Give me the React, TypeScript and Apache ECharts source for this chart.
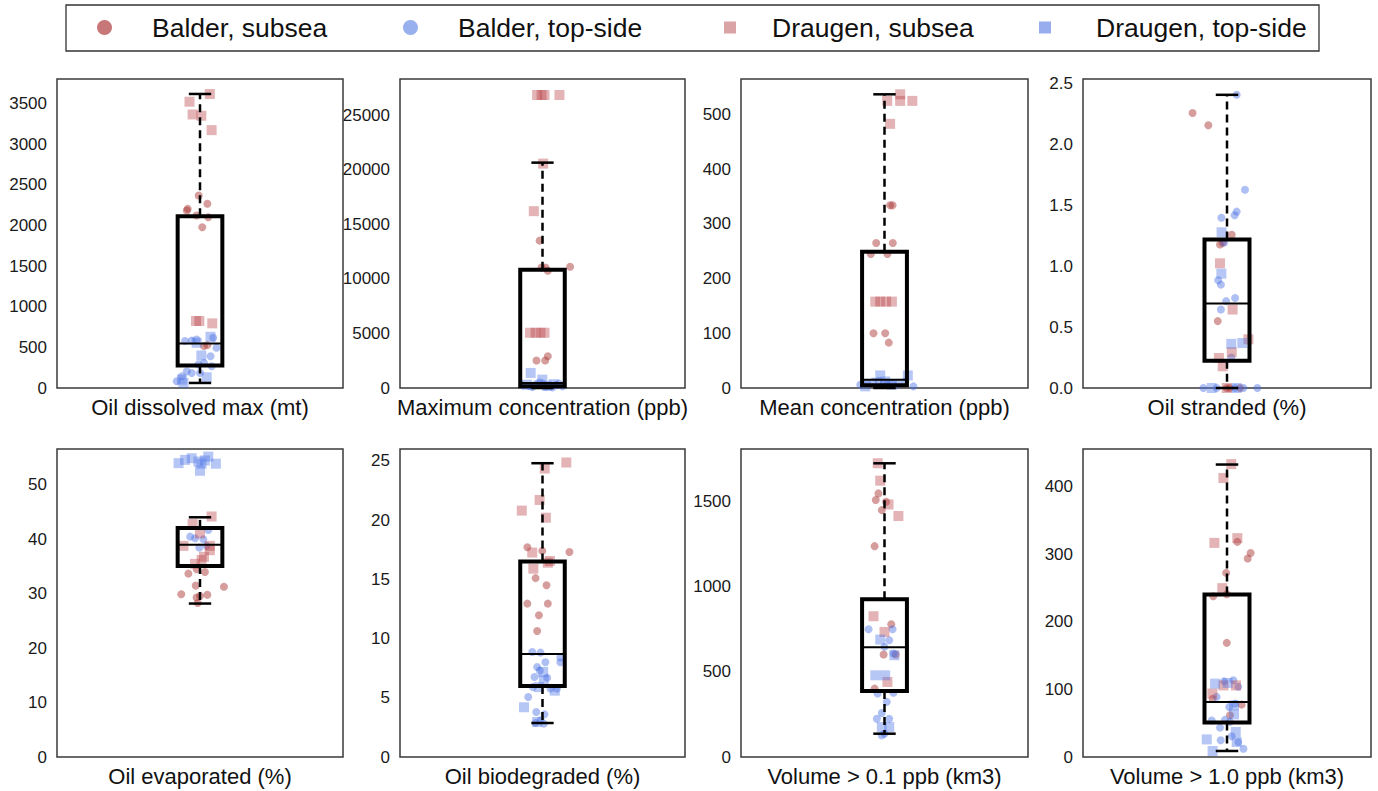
import React, { useEffect, useRef } from "react";
import * as echarts from "echarts";

type Pt = [number, number];

// ---------- data ----------
const panelTitles = [
  "Oil dissolved max (mt)",
  "Maximum concentration (ppb)",
  "Mean concentration (ppb)",
  "Oil stranded (%)",
  "Oil evaporated (%)",
  "Oil biodegraded (%)",
  "Volume > 0.1 ppb (km3)",
  "Volume > 1.0 ppb (km3)",
];

const yMax = [3800, 28300, 565, 2.54, 56.6, 26, 1810, 456];
const yInterval = [500, 5000, 100, 0.5, 10, 5, 500, 100];

// [low whisker, q1, median, q3, high whisker]
const boxStats: number[][] = [
  [62, 276, 548, 2113, 3616],
  [0, 150, 450, 10826, 20640],
  [0, 5, 15, 249, 537],
  [0, 0.225, 0.695, 1.22, 2.41],
  [28.2, 35.1, 39.0, 42.1, 44.05],
  [2.87, 6.0, 8.7, 16.5, 24.8],
  [137, 388, 645, 927, 1726],
  [8.9, 50.9, 81.5, 240.5, 433],
];

// points: [jitter (box half-width units), value]
const balderSubsea: Pt[][] = [
  [[-0.06, 2368], [-0.55, 2203], [-0.59, 2183], [0.33, 2265], [-0.15, 2121], [0.37, 2100], [0.1, 1977], [0.18, 515], [0.33, 527]],
  [[-0.13, 13495], [-0.04, 11041], [0.13, 11041], [0.24, 10735], [1.24, 11100], [-0.27, 2515], [0.12, 2515], [0.24, 2914]],
  [[0.25, 334], [0.36, 334], [-0.37, 265], [0.37, 265], [-0.61, 245], [0.13, 245], [-0.49, 100], [0.03, 100], [0.19, 83]],
  [[-1.53, 2.26], [-0.83, 2.16], [0.21, 1.26], [-0.31, 1.18], [-0.19, 1.195], [-0.41, 0.55], [-0.01, 0], [0.13, 0], [0.58, 0]],
  [[-0.52, 33.7], [0.22, 34.0], [-0.15, 34.5], [-0.19, 31.5], [1.07, 31.3], [-0.84, 29.9], [-0.15, 29.3], [0, 29.6], [0.33, 29.8], [-0.1, 28.3]],
  [[-0.68, 17.7], [-0.01, 17.4], [1.21, 17.3], [-0.31, 15.1], [0.18, 14.5], [-0.68, 12.95], [0.24, 12.95], [-0.16, 11.96], [-0.24, 10.64]],
  [[-0.27, 1549], [-0.39, 1510], [0.07, 1500], [-0.12, 1451], [-0.44, 1239], [0.3, 780], [-0.04, 602], [0.5, 602], [-0.44, 402]],
  [[0.46, 318.5], [0.92, 294], [1.05, 302], [-0.04, 272.6], [-0.01, 241], [-0.61, 238], [-0.01, 169], [0.65, 77.5], [0.13, 61.7], [-0.64, 86]],
];

const balderTopside: Pt[][] = [
  [[-0.67, 577], [-0.37, 585], [-0.15, 597], [0.59, 617], [0.74, 494], [0.47, 391], [0.18, 309], [-0.07, 288], [0.52, 268], [-0.59, 206], [-0.37, 185], [-0.81, 144], [-1.04, 82], [0, 185]],
  [[-0.9, 250], [-0.6, 180], [-0.3, 350], [0, 420], [0.3, 230], [0.6, 300], [0.9, 150], [-0.45, 80], [0.15, 120], [0.45, 60], [-0.15, 500], [0.75, 400]],
  [[-1.08, 6], [-0.79, 9], [-0.49, 12], [-0.27, 13], [-0.04, 9], [0.1, 6], [0.33, 9], [0.62, 7], [0.92, 12], [1.29, 3]],
  [[0.43, 2.41], [0.8, 1.63], [0.43, 1.45], [0.34, 1.42], [-0.25, 1.4], [-0.13, 1.195], [-0.39, 0.885], [-0.27, 0.85], [-0.04, 0.714], [0.36, 0.74], [-0.27, 0.645], [0.19, 0.25], [-1.05, 0], [-0.46, 0], [0.36, 0], [1.35, 0], [0.73, 0]],
  [[-0.44, 40.5], [-0.22, 40.2], [0.15, 40.0], [0.37, 41.7], [-0.03, 38.5], [0.3, 38.8]],
  [[-0.46, 8.87], [-0.09, 8.81], [0.8, 8.4], [0.13, 8.0], [0.8, 8.0], [-0.24, 7.6], [-0.12, 7.3], [-0.36, 6.75], [0.21, 6.7], [-0.43, 5.9], [0.36, 5.77], [0.65, 5.77], [-0.64, 5.07], [-0.28, 3.8], [0.09, 3.6], [-0.09, 3.1], [-0.31, 2.87], [0.06, 2.82]],
  [[-0.71, 751], [0.36, 751], [0.21, 686], [0, 647], [0.4, 608], [-0.31, 373], [0.4, 378], [0.1, 324], [-0.12, 259], [-0.34, 225], [0.21, 225], [0, 137], [-0.12, 127]],
  [[-0.13, 112], [0.28, 113.6], [0.5, 104], [-0.46, 89], [0.1, 74], [0.36, 79], [-0.68, 54], [-0.09, 55], [0.13, 52], [-0.31, 43.5], [0.21, 30.6], [-0.28, 24.7], [0.5, 22.2], [0.73, 12.3]],
];

const draugenSubsea: Pt[][] = [
  [[0.44, 3616], [-0.47, 3521], [-0.33, 3364], [0.06, 3348], [0.52, 3171], [-0.18, 824], [-0.03, 824], [0.55, 795]],
  [[-0.24, 26836], [-0.04, 26836], [0.09, 26836], [0.76, 26836], [0.03, 20550], [-0.39, 16193], [-0.56, 5060], [-0.31, 5060], [-0.09, 5060], [0.09, 5060]],
  [[0.12, 525], [0.7, 537], [0.7, 525], [1.24, 525], [0.25, 483], [-0.41, 158], [-0.19, 158], [0.07, 158], [0.33, 158]],
  [[-0.31, 1.025], [0.25, 0.645], [0.95, 0.4], [0.21, 0.294], [-0.36, 0.247], [-0.19, 0.178], [-0.01, 0]],
  [[0.52, 44.2], [-0.33, 42.8], [0, 41.1], [-0.74, 38.8], [0.44, 38.8], [0.18, 36.8], [0.07, 36.2], [-0.22, 35.5], [0.44, 38.0]],
  [[1.07, 24.86], [0.1, 24.35], [-0.13, 21.7], [-0.93, 20.8], [0.15, 20.2], [-0.46, 17.26], [-0.41, 15.9], [0.24, 16.4], [0.33, 16.55]],
  [[-0.3, 1726], [-0.19, 1624], [0.18, 1484], [0.62, 1416], [-0.49, 827], [0, 735], [0.13, 441]],
  [[0.19, 433.6], [-0.16, 413], [-0.56, 317], [0.46, 324], [-0.21, 250], [-0.65, 94], [-0.16, 106], [0.4, 106]],
];

const draugenTopside: Pt[][] = [
  [[0.47, 630], [0.06, 400], [0.3, 132], [-0.74, 62], [-0.15, 556], [-0.81, 103]],
  [[-0.53, 1380], [-0.01, 767], [-0.7, 300], [0.5, 350], [0.2, 200]],
  [[-0.19, 23], [1.04, 23], [0.03, 12], [0.33, 6], [-0.86, 3]],
  [[-0.24, 1.28], [-0.25, 0.94], [0.19, 0.363], [0.68, 0.37], [-0.68, 0], [0.43, 0]],
  [[-0.96, 54.0], [-0.67, 54.6], [-0.37, 54.9], [-0.07, 54.3], [0.07, 53.9], [0.37, 55.2], [0.22, 54.5], [0.71, 53.9], [0, 52.6]],
  [[0.03, 7.18], [0.06, 6.47], [-0.16, 5.9], [0.55, 5.6], [-0.83, 4.2], [-0.24, 2.96]],
  [[-0.19, 690], [0.44, 598], [-0.41, 480], [0.03, 480], [-0.12, 176], [0.21, 176]],
  [[-0.53, 108.6], [0.03, 109.6], [0.31, 76.5], [0.31, 63], [0.39, 37], [-0.9, 26], [0.43, 22.2], [-0.64, 8.9]],
];

const seriesNames = ["Balder, subsea", "Balder, top-side", "Draugen, subsea", "Draugen, top-side"];

// ---------- layout / style ----------
const gridRects: number[][] = [
  [57, 79, 286, 309],
  [400, 79, 285, 309],
  [741, 79, 287, 309],
  [1083, 79, 288, 309],
  [57, 449, 286, 308],
  [400, 449, 285, 308],
  [741, 449, 287, 308],
  [1083, 449, 288, 308],
];

const FONT = "'Liberation Sans', Arial, Helvetica, sans-serif";

const groupStyles = [
  { symbol: "circle", size: 8, color: "rgba(170,50,50,0.6)", legendColor: "#b95555", legendIcon: "circle" },
  { symbol: "circle", size: 8, color: "rgba(70,110,228,0.55)", legendColor: "#7f9ceb", legendIcon: "circle" },
  { symbol: "rect", size: 10, color: "rgba(185,65,70,0.5)", legendColor: "#d18d90", legendIcon: "rect" },
  { symbol: "rect", size: 10, color: "rgba(75,115,230,0.5)", legendColor: "#7d98e8", legendIcon: "rect" },
];

const legendPos = [
  { left: 97, size: 15, pad: 35 },
  { left: 403, size: 15, pad: 35 },
  { left: 724, size: 12, pad: 31 },
  { left: 1039, size: 12, pad: 40 },
];

export default function App() {
  const ref = useRef<HTMLDivElement>(null);

  useEffect(() => {
    if (!ref.current) return;
    const chart = echarts.init(ref.current, undefined, { renderer: "svg" });
    const groupsData = [balderSubsea, balderTopside, draugenSubsea, draugenTopside];

    const grid = gridRects.map(([left, top, width, height]) => ({
      left,
      top,
      width,
      height,
      show: true,
      borderColor: "#3a3a3a",
      borderWidth: 1.5,
      backgroundColor: "transparent",
      containLabel: false,
      outerBoundsMode: "none",
    }));

    const xAxis = panelTitles.map((t, i) => ({
      type: "value",
      gridIndex: i,
      min: -6.4,
      max: 6.4,
      axisLine: { show: false },
      axisTick: { show: false },
      axisLabel: { show: false },
      splitLine: { show: false },
      name: t,
      nameLocation: "middle",
      nameGap: 8,
      nameTextStyle: { fontSize: 22, color: "#111", fontFamily: FONT, verticalAlign: "top" },
    }));

    const yAxis = panelTitles.map((_, i) => ({
      type: "value",
      gridIndex: i,
      min: 0,
      max: yMax[i],
      interval: yInterval[i],
      axisLine: { show: false },
      axisTick: { show: false },
      splitLine: { show: false },
      axisLabel: {
        fontSize: 17,
        color: "#1a1a1a",
        fontFamily: FONT,
        margin: 10,
        showMaxLabel: false,
        formatter: i === 3 ? (v: number) => v.toFixed(1) : (v: number) => String(v),
      },
    }));

    const series: any[] = [];
    panelTitles.forEach((_, i) => {
      groupsData.forEach((g, k) => {
        const st = groupStyles[k];
        series.push({
          type: "scatter",
          name: seriesNames[k],
          xAxisIndex: i,
          yAxisIndex: i,
          data: g[i],
          symbol: st.symbol,
          symbolSize: st.size,
          itemStyle: { color: st.color },
          z: 2,
          silent: true,
        });
      });
      series.push({
        type: "custom",
        xAxisIndex: i,
        yAxisIndex: i,
        z: 5,
        silent: true,
        data: [[0, ...boxStats[i]]],
        encode: { x: 0, y: [1, 2, 3, 4, 5] },
        renderItem: (_p: any, api: any) => {
          const lo = api.value(1);
          const q1 = api.value(2);
          const med = api.value(3);
          const q3 = api.value(4);
          const hi = api.value(5);
          const cx = api.coord([0, q1])[0];
          const xL = api.coord([-1, q1])[0];
          const xR = api.coord([1, q1])[0];
          const cL = api.coord([-0.5, q1])[0];
          const cR = api.coord([0.5, q1])[0];
          const yLo = api.coord([0, lo])[1];
          const yQ1 = api.coord([0, q1])[1];
          const yMed = api.coord([0, med])[1];
          const yQ3 = api.coord([0, q3])[1];
          const yHi = api.coord([0, hi])[1];
          const dash = { stroke: "#000", lineWidth: 2.5, lineDash: [8, 5] };
          const solid = { stroke: "#000", lineWidth: 2.5 };
          return {
            type: "group",
            children: [
              { type: "line", shape: { x1: cx, y1: yQ3, x2: cx, y2: yHi }, style: dash },
              { type: "line", shape: { x1: cx, y1: yQ1, x2: cx, y2: yLo }, style: dash },
              { type: "line", shape: { x1: cL, y1: yHi, x2: cR, y2: yHi }, style: solid },
              { type: "line", shape: { x1: cL, y1: yLo, x2: cR, y2: yLo }, style: solid },
              {
                type: "rect",
                shape: { x: xL, y: yQ3, width: xR - xL, height: yQ1 - yQ3 },
                style: { fill: "none", stroke: "#000", lineWidth: 4 },
              },
              { type: "line", shape: { x1: xL, y1: yMed, x2: xR, y2: yMed }, style: { stroke: "#000", lineWidth: 2 } },
            ],
          };
        },
      });
    });

    const legend = seriesNames.map((name, k) => ({
      data: [{ name, icon: groupStyles[k].legendIcon, itemStyle: { color: groupStyles[k].legendColor } }],
      left: legendPos[k].left,
      top: 14,
      padding: 0,
      itemWidth: legendPos[k].size,
      itemHeight: legendPos[k].size,
      selectedMode: false,
      textStyle: { fontSize: 26.5, color: "#111", fontFamily: FONT, padding: [0, 0, 0, legendPos[k].pad] },
    }));

    chart.setOption({
      animation: false,
      backgroundColor: "#ffffff",
      grid,
      xAxis,
      yAxis,
      series,
      legend,
      graphic: [
        {
          type: "rect",
          shape: { x: 66, y: 5, width: 1253, height: 46 },
          style: { fill: "none", stroke: "#333", lineWidth: 1.3 },
          silent: true,
        },
      ],
    });

    return () => chart.dispose();
  }, []);

  return (
    <div
      ref={ref}
      style={{ position: "absolute", left: 0, top: 0, width: 1378, height: 791, background: "#fff" }}
    />
  );
}
